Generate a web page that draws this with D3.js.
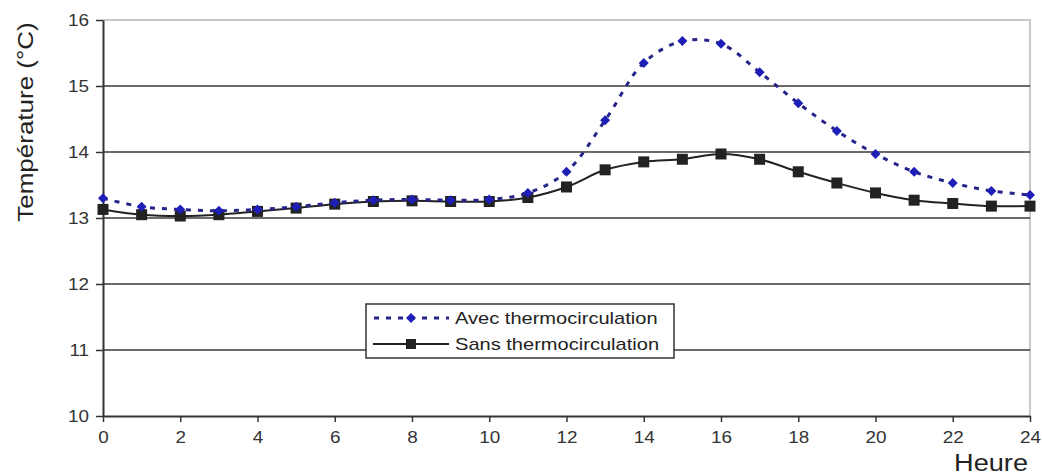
<!DOCTYPE html>
<html lang="fr">
  <head>
    <meta charset="utf-8">
    <title>Température</title>
    <script src="https://d3js.org/d3.v7.min.js"></script>
    <style>
      body { margin: 0; background: #fff; }
      text { font-family: "Liberation Sans", Arial, sans-serif; }
    </style>
  </head>
  <body>
    <div id="container"></div>
    <script>
      width = 1042;
      height = 475;
      margin = ({top: 20, right: 12, bottom: 59, left: 103});

      hours = d3.range(0, 25);
      avec = [13.30, 13.17, 13.13, 13.11, 13.13, 13.17, 13.23, 13.27, 13.28, 13.27, 13.28, 13.38,
              13.70, 14.48, 15.35, 15.68, 15.64, 15.21, 14.74, 14.32, 13.97, 13.70, 13.53, 13.41, 13.35];
      sans = [13.13, 13.05, 13.03, 13.05, 13.10, 13.15, 13.21, 13.25, 13.26, 13.25, 13.25, 13.31,
              13.47, 13.73, 13.85, 13.89, 13.97, 13.89, 13.70, 13.53, 13.38, 13.27, 13.22, 13.18, 13.18];
      xTicks = d3.range(0, 25, 2);
      yTicks = [10, 11, 12, 13, 14, 15, 16];
      seriesNames = ["Avec thermocirculation", "Sans thermocirculation"];

      x = d3.scaleLinear().domain([0, 24]).range([margin.left, width - margin.right]);
      y = d3.scaleLinear().domain([10, 16]).range([height - margin.bottom, margin.top]);

      // the source picture is a bit stretched sideways, so widen the text
      const stretch = sel => sel.each(function() {
        const w = this.getComputedTextLength();
        d3.select(this).attr("textLength", w * 1.18).attr("lengthAdjust", "spacingAndGlyphs");
      });

      const svg = d3.create("svg")
          .attr("width", width)
          .attr("height", height)
          .attr("viewBox", [0, 0, width, height]);
      d3.select("#container").append(() => svg.node());

      // plot frame (light grey top/right)
      svg.append("path")
          .attr("d", `M${x(0)},${y(16)}H${x(24)}V${y(10)}`)
          .attr("fill", "none")
          .attr("stroke", "#c8c8c8")
          .attr("stroke-width", 2);

      // gridlines
      svg.append("g")
        .selectAll("line")
        .data(yTicks.filter(d => d > 10 && d < 16))
        .join("line")
          .attr("x1", x(0))
          .attr("x2", x(24))
          .attr("y1", d => y(d))
          .attr("y2", d => y(d))
          .attr("stroke", "#3a3a3a")
          .attr("stroke-width", 1.5);

      // axes
      const xAxis = svg.append("g")
          .attr("transform", `translate(0,${y(10)})`)
          .call(d3.axisBottom(x).tickValues(xTicks).tickFormat(d3.format("d"))
            .tickSize(6).tickSizeOuter(0).tickPadding(10));
      const yAxis = svg.append("g")
          .attr("transform", `translate(${x(0)},0)`)
          .call(d3.axisLeft(y).tickValues(yTicks).tickFormat(d3.format("d"))
            .tickSize(7).tickSizeOuter(0).tickPadding(7));
      [xAxis, yAxis].forEach(g => {
        g.select(".domain").attr("stroke", "#333").attr("stroke-width", 2);
        g.selectAll(".tick line").attr("stroke", "#333").attr("stroke-width", 1.5);
        g.selectAll(".tick text")
            .attr("fill", "#333")
            .style("font-size", "16px")
            .style("font-family", "Liberation Sans, Arial, sans-serif")
            .call(stretch);
      });

      // axis titles
      svg.append("text")
          .attr("transform", `translate(33,122) rotate(-90)`)
          .attr("text-anchor", "middle")
          .attr("fill", "#222")
          .style("font-size", "22px")
          .text("Température (°C)")
          .call(stretch);
      svg.append("text")
          .attr("x", x(24) - 2)
          .attr("y", 471)
          .attr("text-anchor", "end")
          .attr("fill", "#222")
          .style("font-size", "23px")
          .text("Heure")
          .call(stretch);

      const curve = d3.curveCatmullRom.alpha(0.5);
      const line = vals => d3.line()
          .x((d, i) => x(hours[i]))
          .y(d => y(d))
          .curve(curve)(vals);
      const diamond = "M0,-5L5,0L0,5L-5,0Z";

      // Sans thermocirculation
      svg.append("path")
          .attr("d", line(sans))
          .attr("fill", "none")
          .attr("stroke", "#222")
          .attr("stroke-width", 2);
      svg.append("g")
        .selectAll("rect")
        .data(sans)
        .join("rect")
          .attr("x", (d, i) => x(hours[i]) - 5.5)
          .attr("y", d => y(d) - 5.5)
          .attr("width", 11)
          .attr("height", 11)
          .attr("fill", "#222");

      // Avec thermocirculation
      svg.append("path")
          .attr("d", line(avec))
          .attr("fill", "none")
          .attr("stroke", "#24248a")
          .attr("stroke-width", 3)
          .attr("stroke-dasharray", "5,7");
      svg.append("g")
        .selectAll("path")
        .data(avec)
        .join("path")
          .attr("transform", (d, i) => `translate(${x(hours[i])},${y(d)})`)
          .attr("d", diamond)
          .attr("fill", "#1f1fb8");

      // legend
      const lg = svg.append("g").attr("transform", "translate(366,304)");
      lg.append("rect")
          .attr("width", 308)
          .attr("height", 54)
          .attr("fill", "#fff")
          .attr("stroke", "#333")
          .attr("stroke-width", 1.5);
      lg.append("line")
          .attr("x1", 8).attr("x2", 83).attr("y1", 14).attr("y2", 14)
          .attr("stroke", "#24248a").attr("stroke-width", 3).attr("stroke-dasharray", "5,7");
      lg.append("path")
          .attr("transform", "translate(45,14)")
          .attr("d", diamond)
          .attr("fill", "#1f1fb8");
      lg.append("line")
          .attr("x1", 7).attr("x2", 83).attr("y1", 40).attr("y2", 40)
          .attr("stroke", "#222").attr("stroke-width", 2);
      lg.append("rect")
          .attr("x", 40).attr("y", 35).attr("width", 10).attr("height", 10)
          .attr("fill", "#222");
      lg.selectAll("text.lbl")
        .data(seriesNames)
        .join("text")
          .attr("class", "lbl")
          .attr("x", 89)
          .attr("y", (d, i) => 20 + i * 26)
          .attr("fill", "#222")
          .style("font-size", "17px")
          .text(d => d)
          .call(stretch);
    </script>
  </body>
</html>
